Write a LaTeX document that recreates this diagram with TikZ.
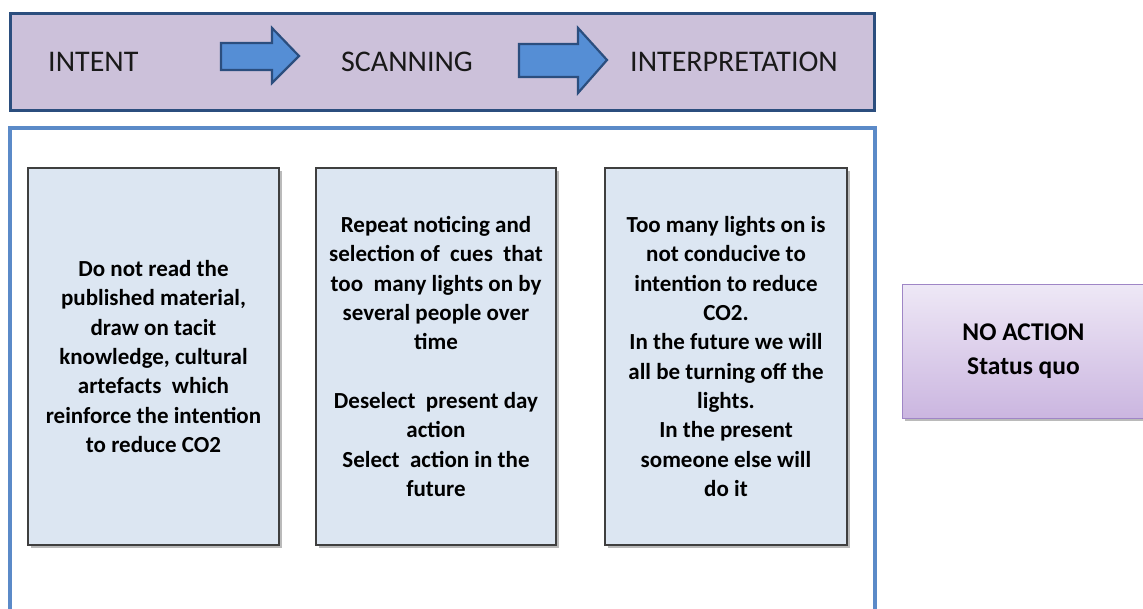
\documentclass[tikz,border=0pt]{standalone}
\usepackage{fontspec}
\setmainfont{Carlito}
\usetikzlibrary{shadows}
\definecolor{bannerfill}{HTML}{CCC1DA}
\definecolor{bannerline}{HTML}{2B4E7E}
\definecolor{arrowfill}{HTML}{558ED5}
\definecolor{arrowline}{HTML}{2B4E7E}
\definecolor{outerline}{HTML}{5B8AC8}
\definecolor{boxfill}{HTML}{DCE6F2}
\definecolor{boxline}{HTML}{3F3F3F}
\definecolor{nafilltop}{HTML}{EEE8F6}
\definecolor{nafillbot}{HTML}{CBB6E0}
\definecolor{naline}{HTML}{9F86C6}
\tikzset{
  headtext/.style={inner sep=0pt, text=black!90, font=\fontsize{30}{36}\selectfont},
  stagebox/.style={draw=boxline, line width=1.5pt, fill=boxfill,
    minimum width=250pt, minimum height=377pt, inner sep=0pt,
    align=center, font=\fontsize{23}{29.3}\selectfont\bfseries,
    drop shadow={shadow xshift=3pt, shadow yshift=-3pt, opacity=0.45, fill=black!60}},
  blockarrow/.style={draw=arrowline, line width=2.2pt, fill=arrowfill, line join=miter},
  nabox/.style={draw=naline, line width=1pt, top color=nafilltop, bottom color=nafillbot,
    minimum width=243pt, minimum height=134pt, inner sep=0pt, align=center,
    font=\fontsize{25.5}{34}\selectfont\bfseries,
    drop shadow={shadow xshift=3pt, shadow yshift=-3pt, opacity=0.45, fill=black!60}}
}
\begin{document}
\begin{tikzpicture}[x=1pt,y=-1pt]
\useasboundingbox (0,0) rectangle (1143,608);
\fill[white] (0,0) rectangle (1143,608);
% banner
\node[draw=bannerline, line width=3pt, fill=bannerfill, minimum width=864pt,
  minimum height=97pt, inner sep=0pt] (banner) at (442.5,61.5) {};
\node[headtext, anchor=west] (intent) at (48,62) {INTENT};
\node[headtext] (scanning) at (407,62) {SCANNING};
\node[headtext] (interp) at (734,62) {INTERPRETATION};
% arrows
\draw[blockarrow] (221,43) -- (272,43) -- (272,28) -- (299,56) -- (272,83) -- (272,70) -- (221,70) -- cycle;
\draw[blockarrow] (519,44) -- (578,44) -- (578,28) -- (607,60) -- (578,93) -- (578,77) -- (519,77) -- cycle;
% outer frame
\fill[white] (10,128) rectangle (875,612);
\draw[outerline, line width=3.2pt] (10,612) -- (10,128) -- (875,128) -- (875,612);
% stage boxes
\node[stagebox, minimum width=251pt] (b1) at (153.5,356.5) {Do not read the\\published material,\\draw on tacit\\knowledge, cultural\\artefacts\ \ which\\reinforce the intention\\to reduce CO2};
\node[stagebox, minimum width=240pt] (b2) at (436,356.5) {Repeat noticing and\\selection of\ \ cues\ \ that\\too\ \ many lights on by\\several people over\\time\\[29.3pt]Deselect\ \ present day\\action\\Select\ \ action in the\\future};
\node[stagebox, minimum width=242pt] (b3) at (726,356.5) {Too many lights on is\\not conducive to\\intention to reduce\\CO2.\\In the future we will\\all be turning off the\\lights.\\In the present\\someone else will\\do it};
% result box
\node[nabox] (na) at (1023.5,351) {NO ACTION\\Status quo};
\end{tikzpicture}
\end{document}
